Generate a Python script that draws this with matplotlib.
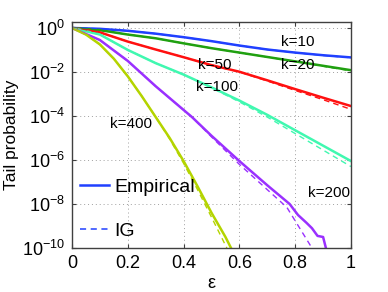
import matplotlib
matplotlib.use("Agg")
import matplotlib.pyplot as plt
import numpy as np
from matplotlib.lines import Line2D

plt.rcParams['font.family'] = ['Liberation Sans', 'DejaVu Sans']
plt.rcParams['mathtext.fontset'] = 'custom'
plt.rcParams['mathtext.rm'] = 'Liberation Sans'
plt.rcParams['mathtext.it'] = 'Liberation Sans:italic'
plt.rcParams['mathtext.default'] = 'regular'

# ---- data (log10 of tail probability) ----
k_labels = ["k=10", "k=20", "k=50", "k=100", "k=200", "k=400"]
colors = ["#2040ff", "#20a010", "#ff1010", "#40f8b0", "#9a30ff", "#b4d400"]

eps_10 = [0, 0.1, 0.2, 0.3, 0.4, 0.5, 0.6, 0.7, 0.8, 0.9, 1.0]
emp_10 = [0, -0.04, -0.13, -0.26, -0.42, -0.6, -0.8, -0.98, -1.12, -1.24, -1.34]
ig_10 = [0, -0.04, -0.13, -0.26, -0.42, -0.6, -0.8, -0.98, -1.12, -1.25, -1.35]

eps_20 = [0, 0.1, 0.2, 0.3, 0.4, 0.5, 0.6, 0.7, 0.8, 0.9, 1.0]
emp_20 = [0, -0.1, -0.3, -0.47, -0.7, -0.92, -1.12, -1.32, -1.52, -1.72, -1.92]
ig_20 = [0, -0.1, -0.3, -0.47, -0.7, -0.92, -1.12, -1.32, -1.53, -1.74, -1.95]

eps_50 = [0, 0.1, 0.2, 0.3, 0.4, 0.5, 0.6, 0.7, 0.8, 0.9, 1.0]
emp_50 = [0, -0.2, -0.62, -0.98, -1.33, -1.69, -1.99, -2.38, -2.78, -3.17, -3.55]
ig_50 = [0, -0.2, -0.62, -0.98, -1.33, -1.69, -2.0, -2.41, -2.84, -3.26, -3.7]

eps_100 = [0, 0.1, 0.2, 0.3, 0.4, 0.5, 0.6, 0.7, 0.8, 0.9, 1.0]
emp_100 = [0, -0.3, -1.0, -1.6, -2.12, -2.7, -3.3, -3.95, -4.65, -5.35, -6.05]
ig_100 = [0, -0.3, -1.0, -1.6, -2.12, -2.72, -3.36, -4.05, -4.8, -5.55, -6.3]

eps_200 = [0, 0.1, 0.2, 0.3, 0.43, 0.5, 0.6, 0.7, 0.78, 0.81, 0.84, 0.86, 0.88, 0.9, 0.91]
emp_200 = [0, -0.55, -1.5, -2.65, -4.05, -4.9, -6.05, -7.15, -8.0, -8.5, -8.85, -9.1, -9.45, -9.5, -10]
eps_200_ig = [0, 0.1, 0.2, 0.3, 0.43, 0.5, 0.6, 0.7, 0.77, 0.86]
ig_200 = [0, -0.55, -1.5, -2.65, -4.05, -4.95, -6.2, -7.35, -8.15, -10]

eps_400 = [0, 0.05, 0.1, 0.15, 0.2, 0.25, 0.3, 0.35, 0.4, 0.45, 0.5, 0.55, 0.57]
emp_400 = [0, -0.3, -0.75, -1.4, -2.2, -3.1, -4.05, -5.0, -6.05, -7.2, -8.4, -9.5, -10]
eps_400_ig = [0, 0.05, 0.1, 0.15, 0.2, 0.25, 0.3, 0.35, 0.4, 0.45, 0.5, 0.555]
ig_400 = [0, -0.3, -0.75, -1.4, -2.2, -3.1, -4.05, -5.05, -6.15, -7.35, -8.6, -10]

emp_series = [(eps_10, emp_10), (eps_20, emp_20), (eps_50, emp_50),
              (eps_100, emp_100), (eps_200, emp_200), (eps_400, emp_400)]
ig_series = [(eps_10, ig_10), (eps_20, ig_20), (eps_50, ig_50),
             (eps_100, ig_100), (eps_200_ig, ig_200), (eps_400_ig, ig_400)]

# label positions (eps, log10 p)
label_pos = [(0.81, -0.62), (0.81, -1.68), (0.51, -1.68), (0.52, -2.68), (0.92, -7.5), (0.21, -4.35)]

y_ticks = [0, -2, -4, -6, -8, -10]
x_ticks = [0, 0.2, 0.4, 0.6, 0.8, 1]
x_ticklabels = ["0", "0.2", "0.4", "0.6", "0.8", "1"]

fig = plt.figure(figsize=(3.88, 2.92), dpi=100)
ax = fig.add_axes([72/388, 1-248/292, (351-72)/388, (248-22)/292])

for (e, v), c in zip(emp_series, colors):
    ax.plot(e, 10.0**np.array(v), color=c, lw=1.8, solid_joinstyle='round')
for (e, v), c in zip(ig_series, colors):
    ax.plot(e, 10.0**np.array(v), color=c, lw=1.0, ls=(0, (4, 3)))

for lab, (x, y) in zip(k_labels, label_pos):
    ax.text(x, 10.0**y, lab, fontsize=11, ha='center', va='center', color='black')

ax.set_yscale('log')
ax.set_xlim(0, 1)
ax.set_ylim(1e-10, 10**0.27)
ax.set_yticks([10.0**t for t in y_ticks])
ax.set_yticklabels([r"$10^{%d}$" % t for t in y_ticks])
ax.yaxis.set_minor_locator(matplotlib.ticker.NullLocator())
ax.set_xticks(x_ticks)
ax.set_xticklabels(x_ticklabels)
ax.tick_params(direction='in', top=True, right=True, labelsize=13, length=3, color='#404040', pad=5)
ax.grid(True, ls=(0, (1, 3)), color='#a0a0a0', lw=0.7)
for s in ax.spines.values():
    s.set_color('#404040')
    s.set_linewidth(1.0)

ax.set_ylabel("Tail probability", fontsize=12.5, labelpad=2)
ax.set_xlabel("ε", fontsize=13, labelpad=2)

handles = [Line2D([], [], color="#2040ff", lw=1.8),
           Line2D([], [], color="#2040ff", lw=1.1, ls=(0, (4, 3)))]
ax.legend(handles, ["Empirical", "IG"], loc='lower left', frameon=False, fontsize=14,
          handlelength=1.5, handletextpad=0.25, labelspacing=1.35, borderaxespad=0.0,
          borderpad=0.0, bbox_to_anchor=(8/279, 8/226))

fig.savefig("out.png", dpi=100)
